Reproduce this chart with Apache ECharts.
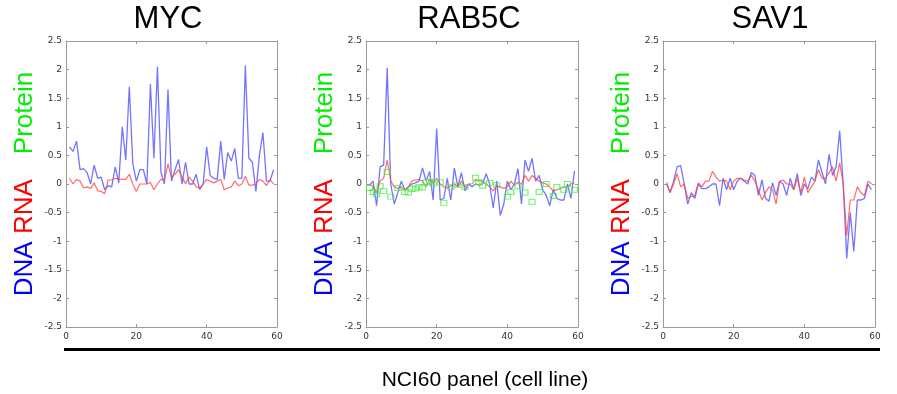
<!DOCTYPE html>
<html>
<head>
<meta charset="utf-8">
<script src="https://cdn.jsdelivr.net/npm/echarts@6/dist/echarts.min.js"></script>
<style>html,body{margin:0;padding:0;background:#fff;}#c{width:897px;height:394px;}</style>
</head>
<body>
<div id="c"></div>
<script>
// ---- data ----
const genes = ['MYC', 'RAB5C', 'SAV1'];
const cellLine = [1,2,3,4,5,6,7,8,9,10,11,12,13,14,15,16,17,18,19,20,21,22,23,24,25,26,27,28,29,30,31,32,33,34,35,36,37,38,39,40,41,42,43,44,45,46,47,48,49,50,51,52,53,54,55,56,57,58,59];
const xTicks = [0, 20, 40, 60];
const yTicks = [-2.5, -2, -1.5, -1, -0.5, 0, 0.5, 1, 1.5, 2, 2.5];

const mycDNA = [0.65,0.57,0.75,0.25,0.27,0.2,0.0,0.33,0.1,0.12,-0.1,-0.03,-0.05,0.3,0.02,1.0,0.42,1.7,0.35,0.05,0.25,0.25,0.0,1.75,0.45,2.05,0.2,0.0,1.65,0.05,0.25,0.43,0.0,0.38,0.0,0.0,0.17,-0.1,0.0,0.65,0.15,0.1,0.08,0.75,0.08,0.55,0.4,0.62,0.1,0.1,2.07,0.45,0.38,-0.13,0.5,0.9,0.05,0.05,0.25];
const mycRNA = [0.1,0.0,0.08,0.05,-0.07,-0.05,-0.08,0.02,-0.12,-0.13,-0.17,0.07,0.07,0.1,0.08,0.08,0.08,0.17,0.0,-0.13,0.0,0.0,0.0,0.03,-0.1,0.0,0.08,0.07,0.35,0.12,0.17,0.25,0.12,0.0,0.12,0.05,-0.05,-0.07,0.0,0.08,0.05,0.02,0.05,0.08,-0.1,-0.07,-0.05,0.05,-0.03,0.0,0.13,-0.02,-0.02,0.0,0.08,0.05,-0.03,0.08,0.0];

const rabDNA = [-0.02,0.05,-0.38,0.3,0.33,2.03,0.0,-0.35,-0.15,0.05,-0.1,-0.05,0.0,0.02,0.05,0.28,0.05,0.22,-0.28,0.97,-0.28,-0.25,0.1,-0.28,0.28,-0.05,0.2,-0.12,0.0,-0.05,0.0,-0.02,0.0,0.18,0.0,-0.42,0.05,-0.55,-0.35,0.05,-0.1,0.0,0.27,-0.35,0.42,0.22,0.45,0.05,0.15,-0.1,-0.2,-0.38,-0.1,-0.25,-0.28,-0.28,0.0,-0.25,0.23];
const rabRNA = [0.0,-0.05,-0.15,0.05,0.1,0.42,0.05,-0.05,-0.08,-0.05,-0.12,-0.05,0.05,0.07,0.08,0.05,-0.05,0.08,0.03,0.1,0.0,-0.05,-0.07,-0.03,0.0,-0.05,0.05,-0.05,0.0,0.0,0.08,0.05,0.05,0.0,-0.05,-0.12,-0.03,-0.05,-0.08,-0.05,0.05,-0.02,0.03,0.0,0.15,0.05,0.15,0.1,0.05,0.02,0.0,-0.05,-0.12,-0.1,-0.08,-0.05,-0.05,0.0,0.02];
const rabProteinX = [1,2,3,4,5,6,7,9,11,12,13,14,15,16,17,18,19,21,22,24,26,28,31,32,33,35,37,40,41,43,45,47,49,51,53,54,56,57,59];
const rabProtein = [-0.07,-0.14,-0.18,-0.04,-0.12,0.21,-0.22,-0.07,-0.14,-0.15,-0.09,-0.08,-0.05,-0.06,0.03,0.04,0.01,0.03,-0.33,-0.05,-0.02,-0.05,0.11,0.03,-0.03,0.02,-0.02,-0.22,-0.14,-0.04,-0.15,-0.31,-0.14,0.0,-0.21,-0.05,-0.1,0.0,-0.1];

const savDNA = [0.0,-0.15,0.05,0.3,0.32,0.0,-0.35,-0.15,-0.25,0.0,-0.08,-0.08,-0.05,0.0,0.0,-0.38,0.1,-0.1,0.1,-0.1,0.05,0.1,0.05,0.0,0.2,0.15,-0.2,0.07,-0.25,-0.3,0.02,-0.2,0.05,0.0,-0.2,0.1,-0.1,0.18,-0.2,0.0,-0.08,0.12,0.05,0.42,0.2,0.0,0.52,0.15,0.3,0.93,0.0,-1.3,-0.5,-1.18,-0.28,-0.28,-0.25,0.0,-0.1];
const savRNA = [0.03,-0.15,0.0,0.18,-0.05,0.0,-0.25,-0.22,-0.2,0.02,-0.05,0.05,0.05,0.22,0.12,0.05,0.07,0.05,-0.1,0.05,0.1,0.1,0.07,0.05,0.15,0.05,-0.1,-0.28,-0.15,-0.05,-0.1,-0.35,0.05,0.07,0.0,0.0,-0.1,0.1,-0.15,0.12,-0.15,-0.05,0.05,0.25,0.1,0.1,0.2,0.3,0.05,0.37,0.0,-0.9,-0.28,-0.28,-0.05,-0.15,-0.2,0.05,0.0];

const xLabel = 'NCI60 panel (cell line)';

// ---- build ----
const pair = (xs, ys) => ys.map((v, i) => [xs[i], v]);
const panels = [
  {left: 66, width: 211, center: 168, dna: mycDNA, rna: mycRNA},
  {left: 366, width: 212, center: 469, dna: rabDNA, rna: rabRNA, protX: rabProteinX, prot: rabProtein},
  {left: 663, width: 212, center: 770, dna: savDNA, rna: savRNA}
];
const TOP = 41, H = 286;
const axisCol = '#9a9a9a';
const lblFont = {fontFamily: 'DejaVu Sans', fontSize: 9, color: '#333'};

const grid = [], xAxis = [], yAxis = [], series = [], graphic = [];
panels.forEach((p, k) => {
  grid.push({left: p.left, top: TOP, width: p.width, height: H, show: false});
  const xBase = {type: 'value', gridIndex: k, min: xTicks[0], max: xTicks[xTicks.length-1], interval: 20,
    axisLine: {show: true, onZero: false, lineStyle: {color: axisCol, width: 1}},
    axisTick: {show: true, inside: true, length: 3, lineStyle: {color: axisCol}},
    splitLine: {show: false}};
  xAxis.push(Object.assign({}, xBase, {position: 'bottom', axisLabel: Object.assign({margin: 5}, lblFont)}));
  xAxis.push(Object.assign({}, xBase, {position: 'top', axisLabel: {show: false}}));
  const yBase = {type: 'value', gridIndex: k, min: yTicks[0], max: yTicks[yTicks.length-1], interval: 0.5,
    axisLine: {show: true, onZero: false, lineStyle: {color: axisCol, width: 1}},
    axisTick: {show: true, inside: true, length: 3, lineStyle: {color: axisCol}},
    splitLine: {show: false}};
  yAxis.push(Object.assign({}, yBase, {position: 'left',
    axisLabel: Object.assign({margin: 4}, lblFont),
    name: '{b|DNA} {r|RNA}{s| }{g|Protein}', nameLocation: 'middle', nameRotate: 90, nameGap: 28,
    nameTextStyle: {fontFamily: 'Liberation Sans', fontSize: 26,
      rich: {
        b: {color: '#0000ff', fontFamily: 'Liberation Sans', fontSize: 26},
        r: {color: '#ff0000', fontFamily: 'Liberation Sans', fontSize: 26},
        s: {width: 25, fontFamily: 'Liberation Sans', fontSize: 26},
        g: {color: '#00ee00', fontFamily: 'Liberation Sans', fontSize: 26}
      }}}));
  yAxis.push(Object.assign({}, yBase, {position: 'right', axisLabel: {show: false}}));

  series.push({type: 'line', xAxisIndex: 2*k, yAxisIndex: 2*k, data: pair(cellLine, p.rna),
    showSymbol: false, silent: true, lineStyle: {color: 'rgba(255,70,70,0.8)', width: 1.2}, z: 3});
  series.push({type: 'line', xAxisIndex: 2*k, yAxisIndex: 2*k, data: pair(cellLine, p.dna),
    showSymbol: false, silent: true, lineStyle: {color: 'rgba(70,70,255,0.75)', width: 1.3}, z: 2});
  if (p.prot) {
    series.push({type: 'scatter', xAxisIndex: 2*k, yAxisIndex: 2*k, data: pair(p.protX, p.prot),
      symbol: 'rect', symbolSize: [6, 5], silent: true,
      itemStyle: {color: 'rgba(0,0,0,0)', borderColor: '#44ee44', borderWidth: 1}, z: 4});
  }
  graphic.push({type: 'text', x: p.center, y: 19,
    style: {text: genes[k], font: '31px "Liberation Sans"', fill: '#000', align: 'center', verticalAlign: 'middle'}});
});

graphic.push({type: 'rect', shape: {x: 64, y: 348, width: 816, height: 3}, style: {fill: '#000'}});
graphic.push({type: 'text', x: 485, y: 380,
  style: {text: xLabel, font: '21px "Liberation Sans"', fill: '#000', align: 'center', verticalAlign: 'middle'}});

const chart = echarts.init(document.getElementById('c'), null, {renderer: 'canvas'});
chart.setOption({animation: false, backgroundColor: '#fff', grid, xAxis, yAxis, series, graphic});
</script>
</body>
</html>
